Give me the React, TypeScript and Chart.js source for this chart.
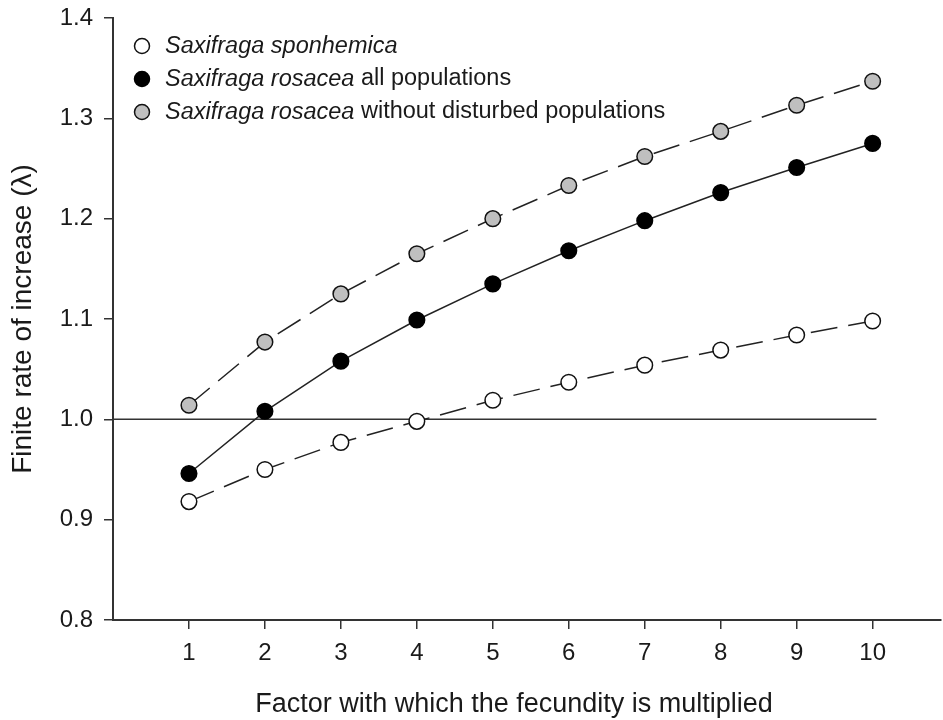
import React, { useEffect, useRef } from "react";
import { Chart, registerables } from "chart.js";

Chart.register(...registerables);

// ---- data ----
const factors = [1, 2, 3, 4, 5, 6, 7, 8, 9, 10];
const sponhemica = [0.918, 0.95, 0.977, 0.998, 1.019, 1.037, 1.054, 1.069, 1.084, 1.098];
const rosaceaAll = [0.946, 1.008, 1.058, 1.099, 1.135, 1.168, 1.198, 1.226, 1.251, 1.275];
const rosaceaUndisturbed = [1.014, 1.077, 1.125, 1.165, 1.2, 1.233, 1.262, 1.287, 1.313, 1.337];
const referenceX = [0, 10.05];
const referenceY = [1.0, 1.0];
const xTicks = [1, 2, 3, 4, 5, 6, 7, 8, 9, 10];
const yTicks = [0.8, 0.9, 1.0, 1.1, 1.2, 1.3, 1.4];
const seriesItalic = ["Saxifraga sponhemica", "Saxifraga rosacea", "Saxifraga rosacea"];
const seriesPlain = ["", " all populations", " without disturbed populations"];
const xTitle = "Factor with which the fecundity is multiplied";
const yTitle = "Finite rate of increase (λ)";

const FONT = '"Liberation Sans", Arial, Helvetica, sans-serif';
const INK = "#1a1a1a";

const toPoints = (xs: number[], ys: number[]) => xs.map((x, i) => ({ x, y: ys[i] }));

const overlayPlugin = {
  id: "overlay",
  afterDraw(chart: any) {
    const ctx = chart.ctx as CanvasRenderingContext2D;
    ctx.save();
    // legend
    const legendX = 142;
    const legendY0 = 46;
    const rowGap = 33;
    const textX = 165;
    for (let i = 0; i < seriesItalic.length; i++) {
      const ds = chart.data.datasets[i];
      const y = legendY0 + i * rowGap;
      ctx.beginPath();
      ctx.arc(legendX, y, 7.5, 0, Math.PI * 2);
      ctx.fillStyle = ds.pointBackgroundColor;
      ctx.fill();
      ctx.lineWidth = 1.5;
      ctx.strokeStyle = ds.pointBorderColor;
      ctx.stroke();
      ctx.fillStyle = INK;
      ctx.textBaseline = "middle";
      ctx.textAlign = "left";
      ctx.font = `italic 23.5px ${FONT}`;
      ctx.fillText(seriesItalic[i], textX, y);
      const w = ctx.measureText(seriesItalic[i]).width;
      ctx.font = `23.5px ${FONT}`;
      ctx.fillText(seriesPlain[i], textX + w, y);
    }
    // x title
    ctx.font = `27px ${FONT}`;
    ctx.textAlign = "center";
    ctx.textBaseline = "alphabetic";
    ctx.fillStyle = INK;
    ctx.fillText(xTitle, 514, 712);
    ctx.restore();
  },
};

export default function App() {
  const ref = useRef<HTMLCanvasElement>(null);
  useEffect(() => {
    const canvas = ref.current!;
    Chart.defaults.font.family = FONT;
    const chart = new Chart(canvas, {
      type: "line",
      data: {
        datasets: [
          {
            label: seriesItalic[0] + seriesPlain[0],
            data: toPoints(factors, sponhemica),
            borderColor: "#222",
            borderWidth: 1.5,
            borderDash: [27, 11],
            pointBackgroundColor: "#ffffff",
            pointBorderColor: "#111",
            pointBorderWidth: 1.5,
            pointRadius: 7.8,
            fill: false,
            order: 1,
          },
          {
            label: seriesItalic[1] + seriesPlain[1],
            data: toPoints(factors, rosaceaAll),
            borderColor: "#222",
            borderWidth: 1.5,
            pointBackgroundColor: "#000000",
            pointBorderColor: "#000",
            pointBorderWidth: 1.5,
            pointRadius: 7.8,
            fill: false,
            order: 1,
          },
          {
            label: seriesItalic[2] + seriesPlain[2],
            data: toPoints(factors, rosaceaUndisturbed),
            borderColor: "#222",
            borderWidth: 1.5,
            borderDash: [27, 11],
            pointBackgroundColor: "#bfbfbf",
            pointBorderColor: "#111",
            pointBorderWidth: 1.5,
            pointRadius: 7.8,
            fill: false,
            order: 1,
          },
          {
            label: "reference",
            data: toPoints(referenceX, referenceY),
            borderColor: "#333",
            borderWidth: 1.5,
            pointRadius: 0,
            fill: false,
            order: 5,
          },
        ],
      },
      options: {
        animation: false,
        responsive: false,
        layout: { autoPadding: false, padding: { top: 18, right: 2, left: 0, bottom: 0 } },
        plugins: { legend: { display: false }, tooltip: { enabled: false } },
        scales: {
          x: {
            type: "linear",
            min: 0,
            max: 10.9,
            afterBuildTicks: (axis: any) => {
              axis.ticks = xTicks.map((v) => ({ value: v }));
            },
            afterFit: (axis: any) => {
              axis.height = 100;
              axis.paddingLeft = 0;
              axis.paddingRight = 0;
            },
            border: { color: "#333", width: 2 },
            grid: { drawOnChartArea: false, tickLength: 9, color: "#333", lineWidth: 1.5 },
            ticks: {
              color: INK,
              font: { size: 24 },
              padding: 10,
              maxRotation: 0,
              autoSkip: false,
              callback: (v: any) => String(v),
            },
          },
          y: {
            type: "linear",
            min: 0.8,
            max: 1.4,
            afterBuildTicks: (axis: any) => {
              axis.ticks = yTicks.map((v) => ({ value: v }));
            },
            afterFit: (axis: any) => {
              axis.width = 113;
              axis.paddingTop = 0;
              axis.paddingBottom = 0;
            },
            border: { color: "#333", width: 2 },
            grid: { drawOnChartArea: false, tickLength: 9, color: "#333", lineWidth: 1.5 },
            ticks: {
              color: INK,
              font: { size: 24 },
              padding: 11,
              autoSkip: false,
              callback: (v: any) => Number(v).toFixed(1),
            },
            title: {
              display: true,
              text: yTitle,
              color: INK,
              font: { size: 28 },
              padding: { top: 6, bottom: 0 },
            },
          },
        },
      },
      plugins: [overlayPlugin],
    } as any);
    return () => chart.destroy();
  }, []);
  return (
    <div style={{ position: "fixed", left: 0, top: 0, width: 943, height: 720, background: "#fff" }}>
      <canvas ref={ref} width={943} height={720} style={{ display: "block" }} />
    </div>
  );
}
